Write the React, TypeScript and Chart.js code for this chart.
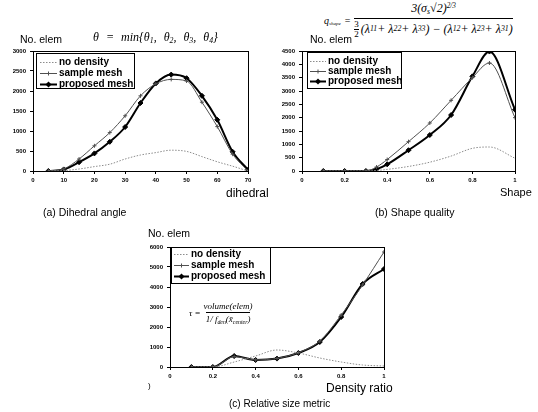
import React, { useEffect, useRef } from 'react';
import { Chart, registerables } from 'chart.js';
Chart.register(...registerables);

// ---------- data ----------
const seriesNames = ['no density', 'sample mesh', 'proposed mesh'];

const dihedralX = [5, 10, 15, 20, 25, 30, 35, 40, 45, 50, 55, 60, 65, 70];
const dihedralNoDensity = [0, 10, 50, 110, 170, 300, 400, 460, 520, 490, 360, 230, 120, 0];
const dihedralSample = [0, 50, 300, 630, 960, 1380, 1880, 2180, 2290, 2250, 1720, 1110, 420, 0];
const dihedralProposed = [0, 40, 220, 440, 730, 1100, 1700, 2190, 2410, 2320, 1880, 1280, 480, 30];

const shapeX = [0.1, 0.2, 0.3, 0.35, 0.4, 0.5, 0.6, 0.7, 0.8, 0.88, 1.0];
const shapeNoDensity = [0, 0, 0, 20, 60, 170, 330, 560, 850, 900, 480];
const shapeSample = [0, 0, 0, 150, 430, 1100, 1800, 2650, 3500, 4050, 2000];
const shapeProposed = [0, 0, 0, 70, 250, 780, 1350, 2100, 3550, 4480, 2300];

const densityX = [0.1, 0.2, 0.3, 0.4, 0.5, 0.6, 0.7, 0.8, 0.9, 1.0];
const densityNoDensity = [0, 0, 250, 550, 850, 700, 450, 250, 100, 50];
const densitySample = [0, 0, 520, 360, 430, 720, 1300, 2600, 4100, 5750];
const densityProposed = [0, 0, 550, 350, 420, 700, 1250, 2500, 4150, 4900];

// axis ranges / ticks
const dihedralXAxis = { min: 0, max: 70, step: 10 };
const dihedralYAxis = { min: 0, max: 3000, step: 500 };
const shapeXAxis = { min: 0, max: 1, step: 0.2 };
const shapeYAxis = { min: 0, max: 4500, step: 500 };
const densityXAxis = { min: 0, max: 1, step: 0.2 };
const densityYAxis = { min: 0, max: 6000, step: 1000 };

// ---------- styles ----------
const seriesStyles: any[] = [
  { borderColor: '#8c8c8c', borderWidth: 1, borderDash: [1.5, 1.5], pointRadius: 0 },
  { borderColor: '#505050', borderWidth: 1, pointStyle: 'cross', pointRadius: 2, pointBorderWidth: 1 },
  { borderColor: '#000000', borderWidth: 2, pointStyle: 'rectRot', pointRadius: 2.5, pointBackgroundColor: '#000', pointBorderWidth: 1 },
];

const tickFont = { family: '"Liberation Sans Narrow", "Liberation Sans", Arial', size: 6, weight: 'bold' as const };

const framePlugin = {
  id: 'frameLegend',
  afterDraw(chart: any, _args: any, opts: any) {
    const { ctx, chartArea: a } = chart;
    ctx.save();
    ctx.strokeStyle = '#000';
    ctx.lineWidth = 1;
    ctx.strokeRect(Math.round(a.left) + 0.5, Math.round(a.top) + 0.5, Math.round(a.right - a.left), Math.round(a.bottom - a.top));
    if (opts && opts.w) {
      const bx = Math.round(a.left + opts.dx);
      const by = Math.round(a.top + opts.dy);
      ctx.fillStyle = '#fff';
      ctx.fillRect(bx, by, opts.w, opts.h);
      ctx.strokeStyle = '#000';
      ctx.lineWidth = 1;
      ctx.strokeRect(bx + 0.5, by + 0.5, opts.w, opts.h);
      ctx.font = 'bold ' + opts.font + 'px "Liberation Sans", Arial';
      ctx.textBaseline = 'middle';
      ctx.textAlign = 'left';
      chart.data.datasets.forEach((ds: any, i: number) => {
        const y = Math.round(by + opts.row0 + i * opts.rowStep) + 0.5;
        ctx.save();
        ctx.strokeStyle = ds.borderColor;
        ctx.lineWidth = ds.borderWidth;
        ctx.setLineDash(ds.borderDash || []);
        ctx.beginPath();
        ctx.moveTo(bx + opts.l0, y);
        ctx.lineTo(bx + opts.l1, y);
        ctx.stroke();
        ctx.restore();
        const cx = bx + (opts.l0 + opts.l1) / 2;
        if (ds.pointRadius > 0) {
          const r = ds.pointRadius;
          ctx.save();
          ctx.strokeStyle = ds.borderColor;
          ctx.fillStyle = ds.pointBackgroundColor || ds.borderColor;
          ctx.lineWidth = 1;
          ctx.beginPath();
          if (ds.pointStyle === 'rectRot') {
            ctx.moveTo(cx, y - r - 0.5);
            ctx.lineTo(cx + r + 0.5, y);
            ctx.lineTo(cx, y + r + 0.5);
            ctx.lineTo(cx - r - 0.5, y);
            ctx.closePath();
            ctx.fill();
          } else {
            ctx.moveTo(cx - r, y);
            ctx.lineTo(cx + r, y);
            ctx.moveTo(cx, y - r);
            ctx.lineTo(cx, y + r);
            ctx.stroke();
          }
          ctx.restore();
        }
        ctx.fillStyle = '#000';
        ctx.fillText(ds.label, bx + opts.tx, y);
      });
    }
    ctx.restore();
  },
};

type PanelProps = {
  left: number; top: number; width: number; height: number;
  yWidth: number; xHeight: number; padTop: number; padRight: number;
  xAxis: { min: number; max: number; step: number };
  yAxis: { min: number; max: number; step: number };
  xs: number[]; series: number[][]; legend: any;
};

function Panel(p: PanelProps) {
  const ref = useRef<HTMLCanvasElement>(null);
  useEffect(() => {
    const chart = new Chart(ref.current!, {
      type: 'line',
      data: {
        datasets: p.series.map((vals, i) => ({
          label: seriesNames[i],
          data: vals.map((v, j) => ({ x: p.xs[j], y: v })),
          fill: false,
          cubicInterpolationMode: 'monotone',
          ...seriesStyles[i],
        })),
      },
      options: {
        responsive: false,
        animation: false,
        layout: { padding: { left: 0, top: p.padTop, right: p.padRight, bottom: 0 } },
        plugins: {
          legend: { display: false },
          tooltip: { enabled: false },
          frameLegend: p.legend,
        } as any,
        scales: {
          x: {
            type: 'linear',
            min: p.xAxis.min,
            max: p.xAxis.max,
            ticks: {
              stepSize: p.xAxis.step,
              font: tickFont,
              color: '#000',
              padding: 3,
              maxRotation: 0,
              autoSkip: false,
              callback: (v: any) => String(Math.round(Number(v) * 10) / 10),
            },
            grid: { drawOnChartArea: false, tickLength: 3, color: '#000' },
            border: { color: '#000' },
            afterFit: (s: any) => { s.height = p.xHeight; },
          },
          y: {
            type: 'linear',
            min: p.yAxis.min,
            max: p.yAxis.max,
            ticks: {
              stepSize: p.yAxis.step,
              font: tickFont,
              color: '#000',
              padding: 4,
              callback: (v: any) => String(v),
            },
            grid: { drawOnChartArea: false, tickLength: 3, color: '#000' },
            border: { color: '#000' },
            afterFit: (s: any) => { s.width = p.yWidth; },
          },
        },
      },
      plugins: [framePlugin],
    } as any);
    return () => chart.destroy();
  }, []);
  return (
    <canvas
      ref={ref}
      width={p.width}
      height={p.height}
      style={{ position: 'absolute', left: p.left, top: p.top, width: p.width, height: p.height }}
    />
  );
}

const sans = '"Liberation Sans", Arial, sans-serif';
const serif = '"Liberation Serif", "Times New Roman", serif';

function T(props: { x: number; y: number; size: number; children: any; style?: any }) {
  return (
    <div
      style={{
        position: 'absolute', left: props.x, top: props.y - props.size * 0.6, fontSize: props.size,
        lineHeight: 1.2, fontFamily: sans, whiteSpace: 'nowrap', color: '#000', ...(props.style || {}),
      }}
    >
      {props.children}
    </div>
  );
}

const subS = { fontSize: '0.65em', verticalAlign: '-0.3em' };
const supS = { fontSize: '0.6em', verticalAlign: '0.5em' };

export default function App() {
  return (
    <div style={{ position: 'absolute', left: 0, top: 0, width: 538, height: 412, background: '#fff', overflow: 'hidden', color: '#000' }}>
      {/* (a) */}
      <Panel left={0} top={43} width={262} height={148} yWidth={33} xHeight={20} padTop={8} padRight={14}
        xAxis={dihedralXAxis} yAxis={dihedralYAxis} xs={dihedralX}
        series={[dihedralNoDensity, dihedralSample, dihedralProposed]}
        legend={{ dx: 3, dy: 2, w: 98, h: 35, row0: 9, rowStep: 11, l0: 4, l1: 21, tx: 23, font: 10 }} />
      {/* (b) */}
      <Panel left={268} top={43} width={262} height={148} yWidth={34} xHeight={20} padTop={8} padRight={15}
        xAxis={shapeXAxis} yAxis={shapeYAxis} xs={shapeX}
        series={[shapeNoDensity, shapeSample, shapeProposed]}
        legend={{ dx: 5, dy: 1, w: 94, h: 36, row0: 9, rowStep: 10, l0: 3, l1: 19, tx: 21, font: 10 }} />
      {/* (c) */}
      <Panel left={136} top={239} width={262} height={148} yWidth={34} xHeight={20} padTop={8} padRight={14}
        xAxis={densityXAxis} yAxis={densityYAxis} xs={densityX}
        series={[densityNoDensity, densitySample, densityProposed]}
        legend={{ dx: 1, dy: 0, w: 99, h: 36, row0: 7, rowStep: 11, l0: 3, l1: 18, tx: 20, font: 10 }} />

      <T x={20} y={39} size={10.5}>No. elem</T>
      <T x={93} y={37} size={12} style={{ fontFamily: serif, fontStyle: 'italic', wordSpacing: 4 }}>
        θ = min{'{'}θ<span style={subS}>1</span>, θ<span style={subS}>2</span>, θ<span style={subS}>3</span>, θ<span style={subS}>4</span>{'}'}
      </T>
      <T x={226} y={193} size={12}>dihedral</T>
      <T x={43} y={212} size={10.5}>(a) Dihedral angle</T>

      {/* (b) formula */}
      <div style={{ position: 'absolute', left: 324, top: 2, display: 'flex', alignItems: 'center', fontFamily: serif, fontSize: 12, lineHeight: 1.1, whiteSpace: 'nowrap', color: '#000' }}>
        <span style={{ fontStyle: 'italic', fontSize: 10 }}>q<span style={{ fontSize: 5, verticalAlign: '-0.2em' }}>shape</span></span>
        <span style={{ margin: '0 4px', fontSize: 10 }}>=</span>
        <span style={{ display: 'inline-flex', flexDirection: 'column', alignItems: 'center' }}>
          <span style={{ fontStyle: 'italic', paddingBottom: 1 }}>3(σ<span style={subS}>s</span>√2)<span style={supS}>2/3</span></span>
          <span style={{ borderTop: '1px solid #000', paddingTop: 1, display: 'inline-flex', alignItems: 'center', fontStyle: 'italic' }}>
            <span style={{ display: 'inline-flex', flexDirection: 'column', alignItems: 'center', fontSize: 9, lineHeight: 1, marginRight: 2, fontStyle: 'normal' }}>
              <span style={{ borderBottom: '1px solid #000' }}>3</span><span>2</span>
            </span>
            (λ<span style={subS}>11</span> + λ<span style={subS}>22</span> + λ<span style={subS}>33</span>) − (λ<span style={subS}>12</span> + λ<span style={subS}>23</span> + λ<span style={subS}>31</span>)
          </span>
        </span>
      </div>
      <T x={310} y={39} size={10.5}>No. elem</T>
      <T x={500} y={193} size={11}>Shape</T>
      <T x={375} y={212} size={10.5}>(b) Shape quality</T>

      {/* (c) */}
      <T x={148} y={233} size={10.5}>No. elem</T>
      <div style={{ position: 'absolute', left: 189, top: 301, display: 'flex', alignItems: 'center', fontFamily: serif, fontSize: 9, whiteSpace: 'nowrap', fontStyle: 'italic', color: '#000' }}>
        <span style={{ marginRight: 3 }}>τ =</span>
        <span style={{ display: 'inline-flex', flexDirection: 'column', alignItems: 'center' }}>
          <span style={{ paddingBottom: 1 }}>volume(elem)</span>
          <span style={{ borderTop: '1px solid #000', paddingTop: 1 }}>1/ f<span style={subS}>den</span>(x̄<span style={subS}>center</span>)</span>
        </span>
      </div>
      <T x={148} y={386} size={8}>)</T>
      <T x={326} y={388} size={12}>Density ratio</T>
      <T x={229} y={404} size={10}>(c) Relative size metric</T>
    </div>
  );
}
